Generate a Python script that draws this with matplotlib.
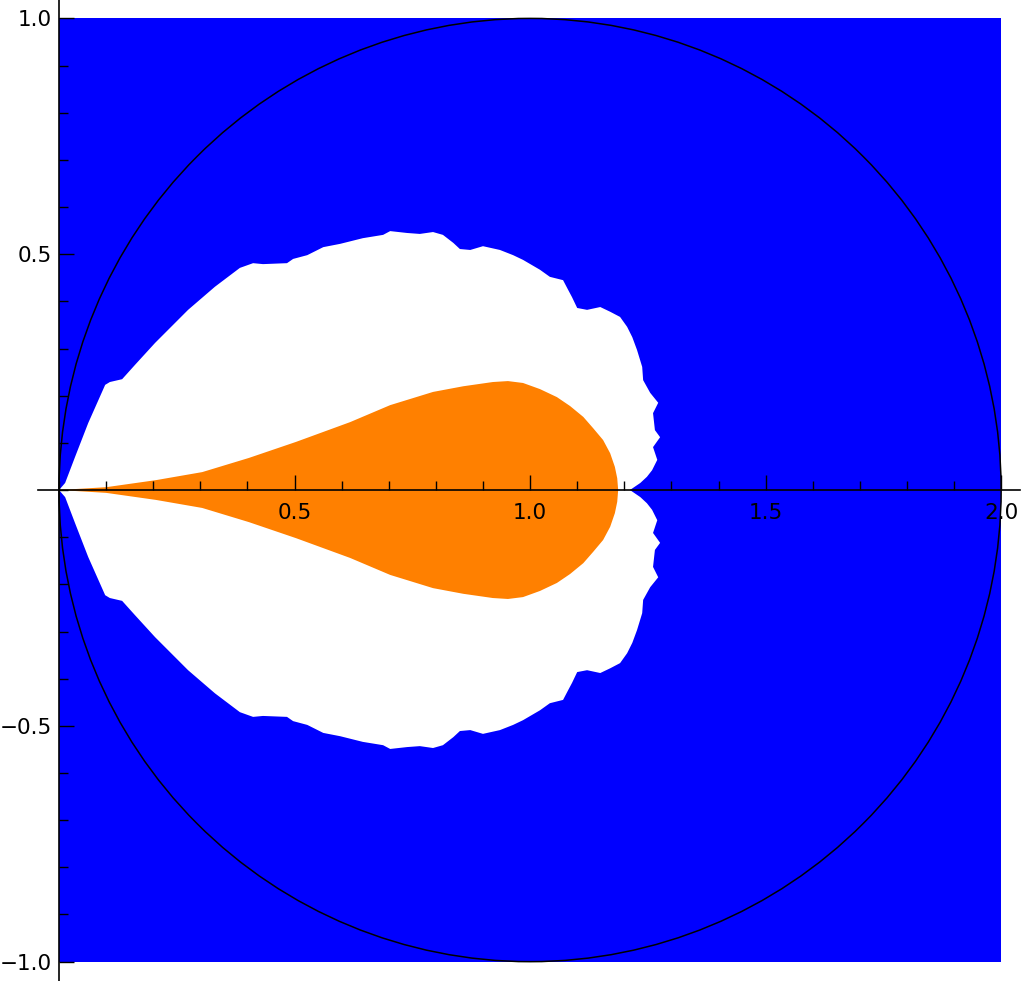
import matplotlib
matplotlib.use("Agg")
import matplotlib.pyplot as plt
from matplotlib.patches import Polygon, Rectangle, Circle
from matplotlib.ticker import FixedLocator, MultipleLocator, FixedFormatter
import numpy as np

# Outer (blue) region extent
region_x = [0.0, 2.0]
region_y = [-1.0, 1.0]

# Upper half of the white region boundary (mirrored for lower half)
white_x = [0.000, 0.013, 0.034, 0.062, 0.098, 0.108, 0.134, 0.161, 0.204, 0.274,
           0.331, 0.384, 0.412, 0.433, 0.484, 0.497, 0.527, 0.561, 0.597, 0.645,
           0.688, 0.703, 0.739, 0.766, 0.794, 0.815, 0.837, 0.851, 0.873, 0.900,
           0.936, 0.964, 0.985, 1.021, 1.042, 1.070, 1.081, 1.089, 1.100, 1.121,
           1.149, 1.170, 1.191, 1.206, 1.217, 1.227, 1.238, 1.240, 1.255, 1.272,
           1.261, 1.265, 1.276, 1.261, 1.270, 1.259, 1.248, 1.234, 1.212]
white_y = [0.000, 0.015, 0.070, 0.142, 0.223, 0.229, 0.235, 0.265, 0.312, 0.382,
           0.431, 0.471, 0.481, 0.479, 0.481, 0.490, 0.498, 0.515, 0.522, 0.534,
           0.541, 0.549, 0.545, 0.543, 0.547, 0.541, 0.524, 0.511, 0.509, 0.517,
           0.509, 0.498, 0.488, 0.467, 0.452, 0.445, 0.424, 0.409, 0.386, 0.382,
           0.388, 0.378, 0.367, 0.346, 0.324, 0.297, 0.261, 0.233, 0.206, 0.185,
           0.163, 0.127, 0.112, 0.091, 0.064, 0.042, 0.028, 0.015, 0.000]

# Upper half of the orange region boundary (mirrored for lower half)
orange_x = [0.000, 0.100, 0.206, 0.304, 0.403, 0.503, 0.618, 0.703, 0.794, 0.858,
            0.921, 0.953, 0.985, 1.021, 1.057, 1.085, 1.113, 1.134, 1.155, 1.170,
            1.180, 1.185, 1.187]
orange_y = [0.000, 0.006, 0.021, 0.038, 0.068, 0.102, 0.144, 0.180, 0.208, 0.220,
            0.229, 0.231, 0.227, 0.214, 0.197, 0.178, 0.155, 0.131, 0.106, 0.078,
            0.049, 0.025, 0.000]

# Reference circle
circle_center = (1.0, 0.0)
circle_radius = 1.0

x_major = [0.5, 1.0, 1.5, 2.0]
x_labels = ["0.5", "1.0", "1.5", "2.0"]
y_major = [-1.0, -0.5, 0.5, 1.0]
y_labels = ["\u22121.0", "\u22120.5", "0.5", "1.0"]


def closed_shape(xs, ys):
    xs = np.asarray(xs)
    ys = np.asarray(ys)
    full_x = np.concatenate([xs, xs[::-1][1:]])
    full_y = np.concatenate([ys, -ys[::-1][1:]])
    return np.column_stack([full_x, full_y])


fig = plt.figure(figsize=(10.24, 9.81), dpi=100)
ax = fig.add_axes([38 / 1024, 0.0, 982 / 1024, 1.0])
ax.set_xlim(-0.0446, 2.040)
ax.set_ylim(-1.041, 1.039)

ax.add_patch(Rectangle((region_x[0], region_y[0]), region_x[1] - region_x[0],
                       region_y[1] - region_y[0], facecolor="#0000ff",
                       edgecolor="none", zorder=0.5))
ax.add_patch(Polygon(closed_shape(white_x, white_y), closed=True,
                     facecolor="white", edgecolor="none", zorder=0.6))
ax.add_patch(Polygon(closed_shape(orange_x, orange_y), closed=True,
                     facecolor="#ff8000", edgecolor="none", zorder=0.7))
ax.add_patch(Circle(circle_center, circle_radius, facecolor="none",
                    edgecolor="black", linewidth=1.1, zorder=0.8))

for side in ["top", "right"]:
    ax.spines[side].set_visible(False)
ax.spines["left"].set_position(("data", 0))
ax.spines["bottom"].set_position(("data", 0))
for side in ["left", "bottom"]:
    ax.spines[side].set_linewidth(1.2)

ax.xaxis.set_major_locator(FixedLocator(x_major))
ax.xaxis.set_major_formatter(FixedFormatter(x_labels))
ax.yaxis.set_major_locator(FixedLocator(y_major))
ax.yaxis.set_major_formatter(FixedFormatter(y_labels))
ax.xaxis.set_minor_locator(MultipleLocator(0.1))
ax.yaxis.set_minor_locator(MultipleLocator(0.1))

ax.tick_params(which="major", direction="in", length=11, width=1.0, labelsize=15.5)
ax.tick_params(which="minor", direction="in", length=6.5, width=1.0)
ax.tick_params(axis="x", which="major", pad=9)
ax.tick_params(axis="y", which="major", pad=5)
ax.patch.set_visible(False)

fig.savefig("out.png", dpi=100)
